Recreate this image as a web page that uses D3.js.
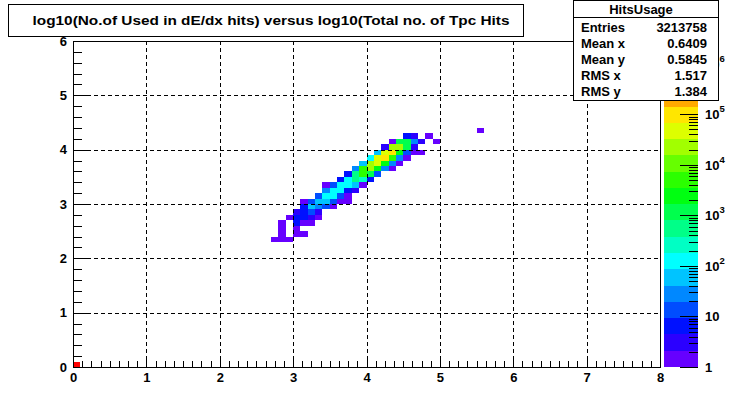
<!DOCTYPE html>
<html><head><meta charset="utf-8">
<script src="https://cdn.jsdelivr.net/npm/d3@7/dist/d3.min.js"></script>
<style>body{margin:0;background:#fff}svg{display:block}text{font-family:"Liberation Sans",Arial,sans-serif;font-weight:bold}</style>
</head><body>
<svg id="c" width="735" height="408"></svg>
<script>
const chartTitle = "log10(No.of Used in dE/dx hits) versus log10(Total no. of Tpc Hits";
const statsTitle = "HitsUsage";
const statLabels = ["Entries", "Mean x", "Mean y", "RMS x", "RMS y"];
const statValues = ["3213758", "0.6409", "0.5845", "1.517", "1.384"];
const xTicks = [0, 1, 2, 3, 4, 5, 6, 7, 8];
const yTicks = [0, 1, 2, 3, 4, 5, 6];
const zTicks = [1, 10, 100, 1000, 10000, 100000, 1000000];
const zTickBase = ["1", "10", "10", "10", "10", "10", "10"];
const zTickExp = ["", "", "2", "3", "4", "5", "6"];
// bin lower edges (bin width 0.1 x 0.1) and counts
const binX = [0.0,
  2.7, 2.8, 2.9,
  2.8, 3.0, 3.1,
  2.8, 3.0,
  2.8, 3.0, 3.1, 3.2,
  2.9, 3.0, 3.1, 3.2, 3.3,
  3.0, 3.1, 3.2, 3.3,
  3.1, 3.2, 3.3, 3.4, 3.5,
  3.1, 3.2, 3.3, 3.4, 3.5, 3.6, 3.7,
  3.3, 3.4, 3.5, 3.6, 3.7,
  3.4, 3.5, 3.6, 3.7, 3.8,
  3.4, 3.5, 3.6, 3.7, 3.8, 3.9,
  3.6, 3.7, 3.8, 3.9, 4.0,
  3.7, 3.8, 3.9, 4.0, 4.1,
  3.8, 3.9, 4.0, 4.1, 4.2, 4.3,
  3.9, 4.0, 4.1, 4.2, 4.3, 4.4,
  4.0, 4.1, 4.2, 4.3, 4.4, 4.5,
  4.1, 4.2, 4.3, 4.4, 4.5, 4.6, 4.7,
  4.2, 4.3, 4.4, 4.5, 4.6,
  4.3, 4.4, 4.5, 4.6, 4.7, 4.9,
  4.5, 4.6, 4.8,
  5.5];
const binY = [0.0,
  2.3, 2.3, 2.3,
  2.4, 2.4, 2.4,
  2.5, 2.5,
  2.6, 2.6, 2.6, 2.6,
  2.7, 2.7, 2.7, 2.7, 2.7,
  2.8, 2.8, 2.8, 2.8,
  2.9, 2.9, 2.9, 2.9, 2.9,
  3.0, 3.0, 3.0, 3.0, 3.0, 3.0, 3.0,
  3.1, 3.1, 3.1, 3.1, 3.1,
  3.2, 3.2, 3.2, 3.2, 3.2,
  3.3, 3.3, 3.3, 3.3, 3.3, 3.3,
  3.4, 3.4, 3.4, 3.4, 3.4,
  3.5, 3.5, 3.5, 3.5, 3.5,
  3.6, 3.6, 3.6, 3.6, 3.6, 3.6,
  3.7, 3.7, 3.7, 3.7, 3.7, 3.7,
  3.8, 3.8, 3.8, 3.8, 3.8, 3.8,
  3.9, 3.9, 3.9, 3.9, 3.9, 3.9, 3.9,
  4.0, 4.0, 4.0, 4.0, 4.0,
  4.1, 4.1, 4.1, 4.1, 4.1, 4.1,
  4.2, 4.2, 4.2,
  4.3];
const binCount = [2700000,
  1, 1, 1,
  1, 1, 1,
  1, 1,
  1, 6, 1, 1,
  1, 6, 6, 3, 1,
  3, 6, 13, 3,
  6, 60, 28, 13, 1,
  1, 13, 60, 60, 13, 1, 1,
  13, 125, 125, 13, 1,
  28, 125, 125, 6, 3,
  1, 13, 125, 125, 60, 1,
  6, 125, 560, 260, 6,
  6, 560, 5200, 1200, 13,
  28, 5200, 24000, 2500, 28, 1,
  60, 24000, 50000, 2500, 28, 1,
  125, 50000, 105000, 5200, 28, 1,
  60, 50000, 105000, 2500, 13, 1, 1,
  3, 24000, 24000, 1200, 3,
  1, 1200, 1200, 28, 3, 1,
  6, 3, 1,
  1];
const zMax = 200000;

const svg = d3.select("#c");
const L = 73, R = 660, T = 41, B = 367;
const x = d3.scaleLinear().domain([0, 8]).range([L, R]);
const y = d3.scaleLinear().domain([0, 6]).range([B, T]);
const z = d3.scaleLog().domain([1, zMax]).range([B, 99]);
const bandStep = 0.322;
function colorFor(v) {
  const j = Math.floor(Math.log10(v) / bandStep + 1e-9);
  return d3.hsl(Math.max(0, 264 - 14 * j), 1, 0.5).formatHex();
}

// bins
const bins = binX.map((bx, i) => ({x: bx, y: binY[i], v: binCount[i]}));
svg.append("g").attr("shape-rendering", "crispEdges").selectAll("rect").data(bins).join("rect")
  .attr("x", d => x(d.x)).attr("y", d => y(d.y + 0.1))
  .attr("width", d => x(d.x + 0.1) - x(d.x)).attr("height", d => y(d.y) - y(d.y + 0.1))
  .attr("fill", d => colorFor(d.v));

// grid
const g = svg.append("g").attr("shape-rendering", "crispEdges");
g.selectAll(".gx").data(xTicks.slice(1, -1)).join("line")
  .attr("x1", d => Math.round(x(d)) + 0.5).attr("x2", d => Math.round(x(d)) + 0.5)
  .attr("y1", T).attr("y2", B).attr("stroke", "#000").attr("stroke-dasharray", "4,3");
g.selectAll(".gy").data(yTicks.slice(1, -1)).join("line")
  .attr("y1", d => Math.round(y(d)) + 0.5).attr("y2", d => Math.round(y(d)) + 0.5)
  .attr("x1", L).attr("x2", R).attr("stroke", "#000").attr("stroke-dasharray", "4,3");

// axes
const xAxis = d3.axisBottom(x).tickValues(xTicks).tickSize(0).tickFormat(d3.format("d"));
const xa = svg.append("g").attr("transform", `translate(0,${B})`).call(xAxis);
xa.select(".domain").remove();
xa.selectAll("text").attr("dy", "0").attr("y", 15).attr("font-size", 13).attr("fill", "#000");
const xMinor = d3.range(0, 8.0001, 0.125);
svg.append("g").attr("shape-rendering", "crispEdges").selectAll("line").data(xMinor).join("line")
  .attr("x1", d => Math.round(x(d)) + 0.5).attr("x2", d => Math.round(x(d)) + 0.5)
  .attr("y1", B).attr("y2", d => B - (Math.abs(d - Math.round(d)) < 1e-6 ? 10 : 6)).attr("stroke", "#000");

const yAxis = d3.axisLeft(y).tickValues(yTicks).tickSize(0).tickFormat(d3.format("d"));
const ya = svg.append("g").attr("transform", `translate(${L},0)`).call(yAxis);
ya.select(".domain").remove();
ya.selectAll("text").attr("x", -6).attr("font-size", 13).attr("fill", "#000");
const yMinor = d3.range(0, 6.0001, 0.2);
svg.append("g").attr("shape-rendering", "crispEdges").selectAll("line").data(yMinor).join("line")
  .attr("y1", d => Math.round(y(d)) + 0.5).attr("y2", d => Math.round(y(d)) + 0.5)
  .attr("x1", L).attr("x2", d => L + (Math.abs(d - Math.round(d)) < 1e-6 ? 17 : 9)).attr("stroke", "#000");

// frame
svg.append("rect").attr("x", L + 0.5).attr("y", T + 0.5).attr("width", R - L).attr("height", B - T)
  .attr("fill", "none").attr("stroke", "#000").attr("shape-rendering", "crispEdges");

// palette
const PL = 664, PR = 698;
const nb = Math.ceil(Math.log10(zMax) / bandStep);
const bands = d3.range(nb).map(j => ({lo: Math.pow(10, j * bandStep), hi: Math.min(zMax, Math.pow(10, (j + 1) * bandStep))}));
svg.append("g").attr("shape-rendering", "crispEdges").selectAll("rect").data(bands).join("rect")
  .attr("x", PL).attr("width", PR - PL)
  .attr("y", d => z(d.hi)).attr("height", d => z(d.lo) - z(d.hi))
  .attr("fill", d => colorFor(Math.sqrt(d.lo * d.hi)));
const zMinor = [];
for (let e = 0; e < 6; e++) for (let m = 2; m <= 9; m++) { const v = m * Math.pow(10, e); if (v <= zMax) zMinor.push(v); }
const zt = svg.append("g").attr("shape-rendering", "crispEdges");
zt.selectAll(".mn").data(zMinor).join("line")
  .attr("x1", PR - 9).attr("x2", PR).attr("y1", d => Math.round(z(d)) + 0.5).attr("y2", d => Math.round(z(d)) + 0.5).attr("stroke", "#000");
zt.selectAll(".mj").data(zTicks.filter(v => v <= zMax)).join("line")
  .attr("x1", PR - 18).attr("x2", PR).attr("y1", d => Math.round(z(d)) + 0.5).attr("y2", d => Math.round(z(d)) + 0.5).attr("stroke", "#000");
const zl = svg.append("g").selectAll("text").data(zTicks).join("text")
  .attr("x", 705).attr("y", d => z(d) + 5).attr("font-size", 13).attr("fill", "#000");
zl.append("tspan").text((d, i) => zTickBase[i]);
zl.append("tspan").attr("dy", -7).attr("font-size", 9.5).text((d, i) => zTickExp[i]);

// title box
svg.append("rect").attr("x", 8.5).attr("y", 4.5).attr("width", 515).attr("height", 32)
  .attr("fill", "#fff").attr("stroke", "#000").attr("shape-rendering", "crispEdges");
svg.append("text").attr("x", 271).attr("y", 25).attr("text-anchor", "middle").attr("font-size", 13)
  .attr("textLength", 477).attr("lengthAdjust", "spacingAndGlyphs").text(chartTitle);

// stats box
const SX = 573, SW = 145, SH = 100;
svg.append("rect").attr("x", SX + 0.5).attr("y", 0.5).attr("width", SW).attr("height", SH)
  .attr("fill", "#fff").attr("stroke", "#000").attr("shape-rendering", "crispEdges");
svg.append("line").attr("x1", SX).attr("x2", SX + SW).attr("y1", 17.5).attr("y2", 17.5).attr("stroke", "#000").attr("shape-rendering", "crispEdges");
svg.append("text").attr("x", 641).attr("y", 14).attr("text-anchor", "middle").attr("font-size", 13).text(statsTitle);
const rowY = d3.scalePoint().domain(statLabels).range([32, 96]);
svg.append("g").selectAll("text").data(statLabels).join("text")
  .attr("x", 581).attr("y", d => rowY(d)).attr("font-size", 13).text(d => d);
svg.append("g").selectAll("text").data(statValues).join("text")
  .attr("x", 707).attr("y", (d, i) => rowY(statLabels[i])).attr("text-anchor", "end").attr("font-size", 13).text(d => d);
</script>
</body></html>
